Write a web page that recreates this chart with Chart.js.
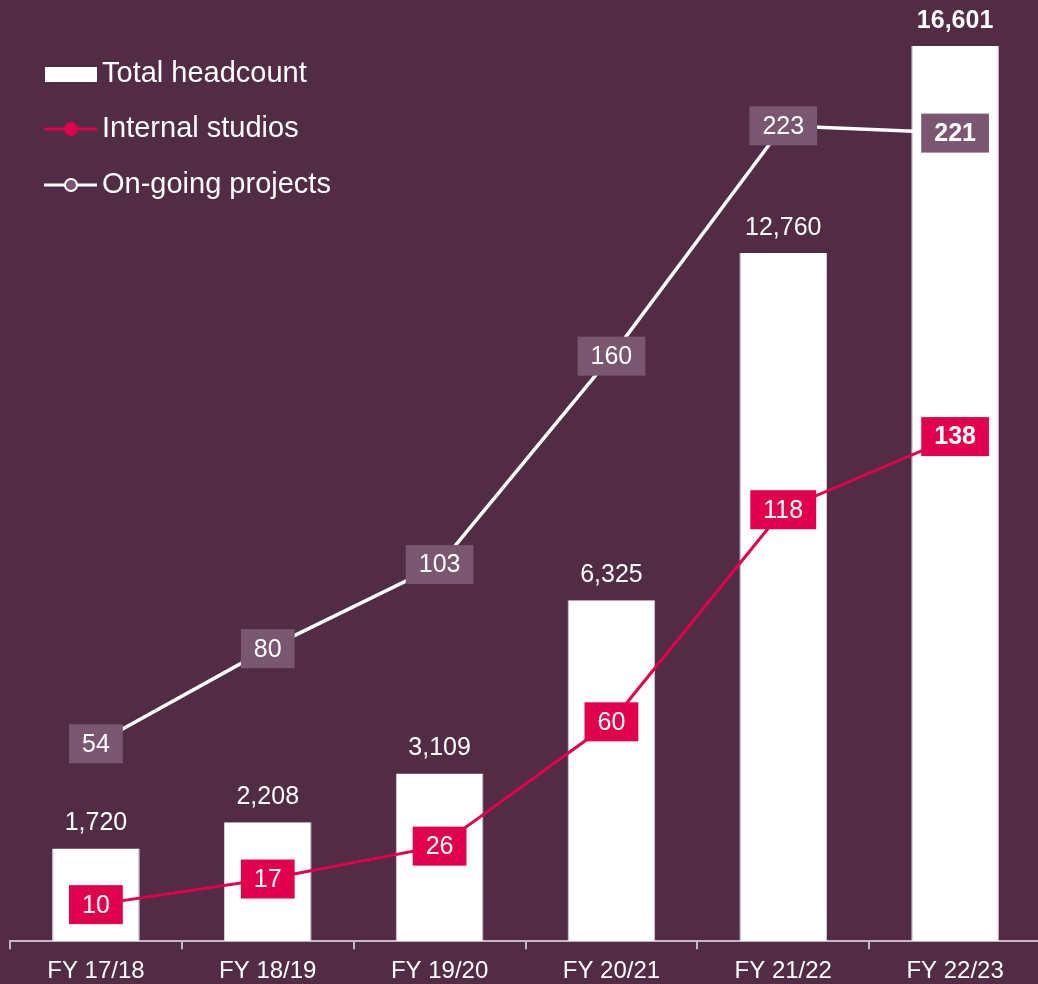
<!DOCTYPE html>
<html>
<head>
<meta charset="utf-8">
<script src="https://cdn.jsdelivr.net/npm/chart.js@4"></script>
<style>
  html, body { margin: 0; padding: 0; background: #522b45; overflow: hidden; }
  #wrap { width: 1038px; height: 984px; overflow: hidden; }
</style>
</head>
<body>
<div id="wrap"><canvas id="chart" width="1041" height="984"></canvas></div>
<script>
var years = ['FY 17/18', 'FY 18/19', 'FY 19/20', 'FY 20/21', 'FY 21/22', 'FY 22/23'];
var headcount = [1720, 2208, 3109, 6325, 12760, 16601];
var studios = [10, 17, 26, 60, 118, 138];
var projects = [54, 80, 103, 160, 223, 221];

var BG = '#522b45';
var PINK = '#e0004d';
var MAUVE = '#7b5670';
var FONT = 'Arial, "Liberation Sans", sans-serif';

function fmt(v) { return v.toLocaleString('en-US'); }

var labelsPlugin = {
    id: 'valueLabels',
    afterDatasetsDraw: function(chart) {
        var ctx = chart.ctx;
        var last = years.length - 1;
        ctx.save();
        ctx.textAlign = 'center';
        ctx.textBaseline = 'middle';

        // bar values above the bars
        chart.getDatasetMeta(0).data.forEach(function(bar, i) {
            ctx.font = (i == last ? 'bold ' : '') + '25px ' + FONT;
            ctx.fillStyle = '#ffffff';
            ctx.fillText(fmt(headcount[i]), bar.x, bar.y - 25);
        });

        // boxes on the line points
        [[1, studios, PINK], [2, projects, MAUVE]].forEach(function(s) {
            chart.getDatasetMeta(s[0]).data.forEach(function(pt, i) {
                ctx.font = (i == last ? 'bold ' : '') + '25px ' + FONT;
                var txt = String(s[1][i]);
                var w = ctx.measureText(txt).width + 26;
                var h = 39;
                ctx.fillStyle = s[2];
                ctx.fillRect(pt.x - w / 2, pt.y - h / 2, w, h);
                ctx.fillStyle = '#ffffff';
                ctx.fillText(txt, pt.x, pt.y + 1);
            });
        });

        // legend
        ctx.textAlign = 'left';
        ctx.font = '29px ' + FONT;
        var lx = 45, rows = [74, 129, 185];
        ctx.fillStyle = '#ffffff';
        ctx.fillRect(lx, 67, 52, 15);
        ctx.fillText('Total headcount', 102, rows[0]);

        ctx.strokeStyle = PINK;
        ctx.lineWidth = 3;
        ctx.beginPath(); ctx.moveTo(lx - 1, rows[1]); ctx.lineTo(lx + 52, rows[1]); ctx.stroke();
        ctx.fillStyle = PINK;
        ctx.beginPath(); ctx.arc(lx + 26, rows[1], 7, 0, Math.PI * 2); ctx.fill();
        ctx.fillStyle = '#ffffff';
        ctx.fillText('Internal studios', 102, rows[1]);

        ctx.strokeStyle = '#ffffff';
        ctx.beginPath(); ctx.moveTo(lx - 1, rows[2]); ctx.lineTo(lx + 52, rows[2]); ctx.stroke();
        ctx.fillStyle = MAUVE;
        ctx.lineWidth = 2;
        ctx.beginPath(); ctx.arc(lx + 26, rows[2], 6, 0, Math.PI * 2); ctx.fill(); ctx.stroke();
        ctx.fillStyle = '#ffffff';
        ctx.fillText('On-going projects', 102, rows[2]);
        ctx.restore();
    }
};

var ctx = document.getElementById('chart').getContext('2d');
var chart = new Chart(ctx, {
    type: 'bar',
    data: {
        labels: years,
        datasets: [
            {
                label: 'Total headcount',
                data: headcount,
                backgroundColor: '#ffffff',
                borderColor: '#d9d2d7',
                borderWidth: { left: 1, right: 1, top: 0, bottom: 0 },
                barPercentage: 0.51,
                categoryPercentage: 1,
                yAxisID: 'y',
                order: 3
            },
            {
                type: 'line',
                label: 'Internal studios',
                data: studios,
                borderColor: PINK,
                borderWidth: 3,
                pointRadius: 0,
                yAxisID: 'y2',
                order: 2
            },
            {
                type: 'line',
                label: 'On-going projects',
                data: projects,
                borderColor: '#ffffff',
                borderWidth: 3.5,
                pointRadius: 0,
                yAxisID: 'y2',
                order: 1
            }
        ]
    },
    options: {
        responsive: false,
        animation: false,
        layout: { padding: { left: 10, right: 0, top: 0, bottom: -10 } },
        plugins: {
            legend: { display: false },
            tooltip: { enabled: false }
        },
        scales: {
            x: {
                offset: true,
                grid: {
                    offset: true,
                    drawOnChartArea: false,
                    drawTicks: true,
                    tickLength: 8,
                    color: '#c3b9c0',
                    lineWidth: 2
                },
                border: { display: true, color: '#c3b9c0', width: 2 },
                ticks: {
                    color: '#ffffff',
                    font: { family: FONT, size: 24 },
                    padding: 8
                }
            },
            y: { display: false, min: 0, max: 17454 },
            y2: { display: false, min: 0, max: 257.4 }
        }
    },
    plugins: [labelsPlugin]
});
</script>
</body>
</html>
